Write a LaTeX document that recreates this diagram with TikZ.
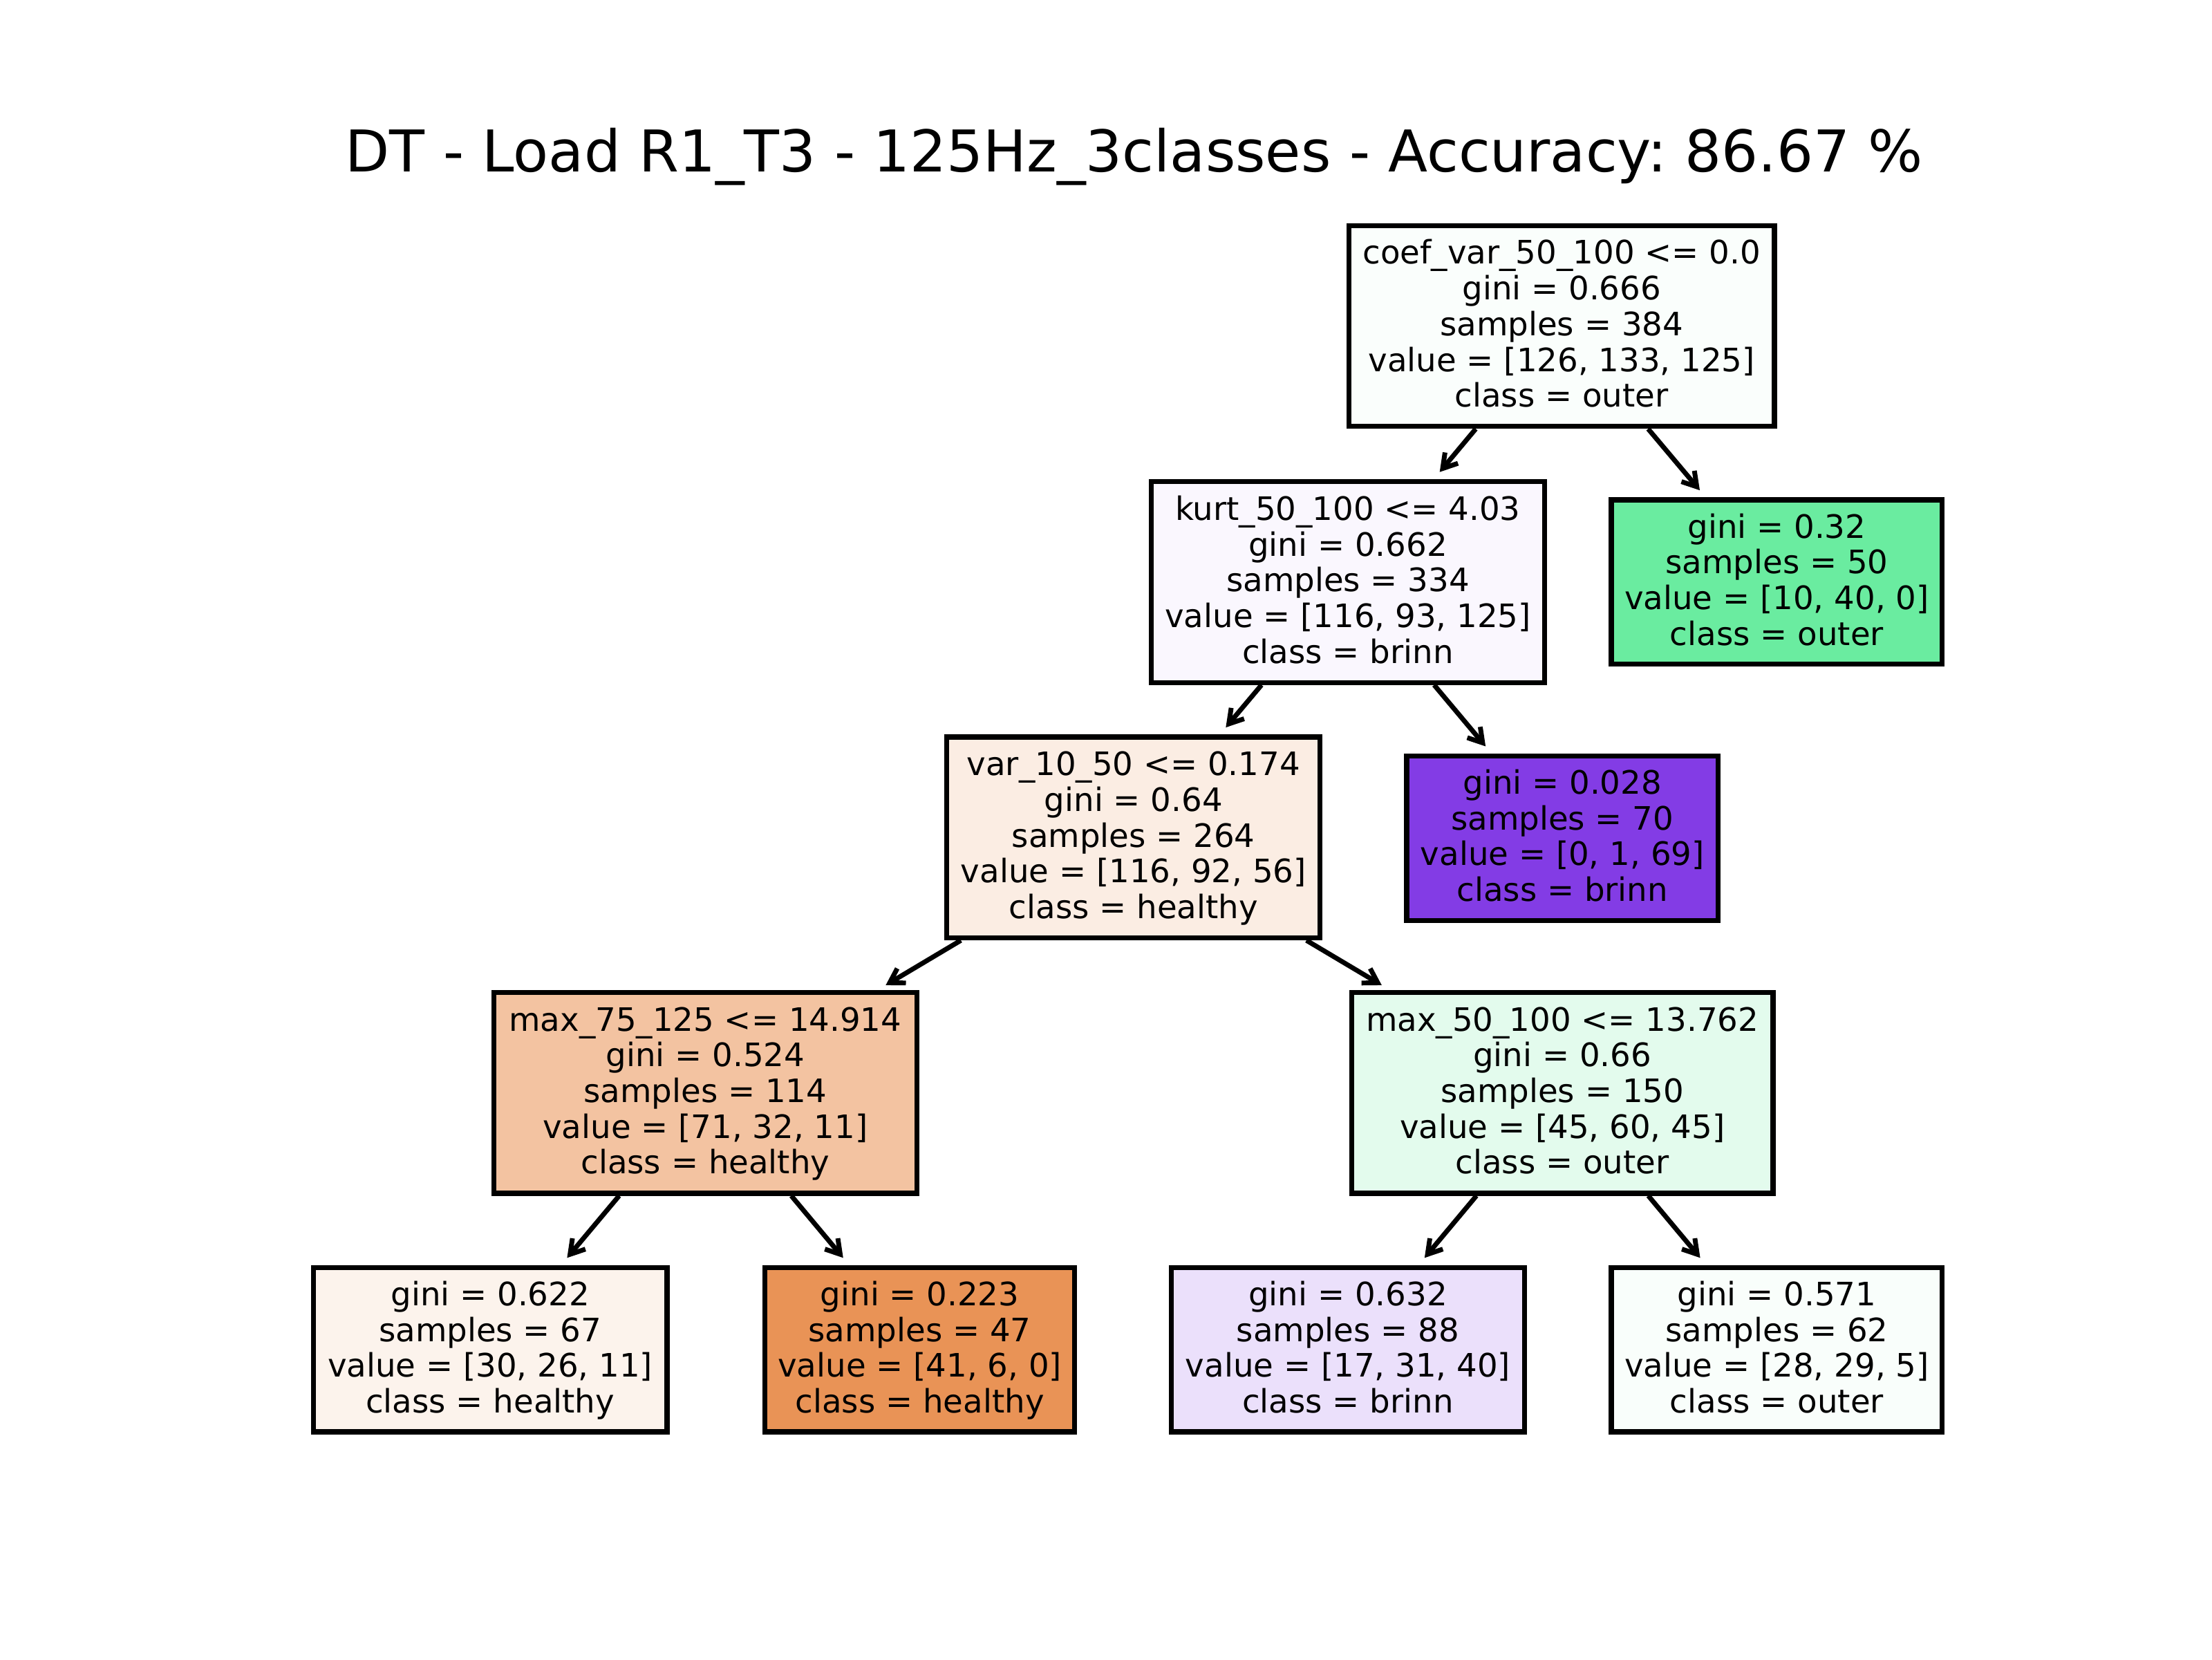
\documentclass[tikz,border=0pt]{standalone}
\usepackage{fontspec}
\setmainfont{DejaVu Sans}
\usetikzlibrary{arrows.meta}
\frenchspacing
\definecolor{cRoot}{RGB}{250,254,252}
\definecolor{cKurt}{RGB}{250,247,254}
\definecolor{cLa}{RGB}{106,236,160}
\definecolor{cVar}{RGB}{251,237,227}
\definecolor{cLb}{RGB}{131,60,229}
\definecolor{cMaxA}{RGB}{243,195,161}
\definecolor{cMaxB}{RGB}{227,251,237}
\definecolor{cLc}{RGB}{252,243,236}
\definecolor{cLd}{RGB}{233,147,86}
\definecolor{cLe}{RGB}{235,224,251}
\definecolor{cLf}{RGB}{249,254,251}
\newcommand{\tl}[1]{\rule[-2.15pt]{0pt}{9.3pt}#1}
\begin{document}
\begin{tikzpicture}[x=0.367347pt, y=-0.367347pt,
  box/.style={draw=black, line width=1.3pt, rectangle, inner sep=0pt, align=center,
    font=\fontsize{8.4}{9.3}\selectfont, anchor=center},
  tall/.style={minimum height=52.3pt},
  short/.style={minimum height=42.8pt},
  arr/.style={-{Straight Barb[length=3.6pt,width=4.4pt]}, line width=1.25pt, shorten >=2.4pt},
  ttl/.style={anchor=base, font=\fontsize{15}{18}\selectfont}
]
\useasboundingbox (0,0) rectangle (1568,1176);
\fill[white] (0,0) rectangle (1568,1176);

\node[ttl] (title) at (804,122) {DT - Load R1\_T3 - 125Hz\_3classes - Accuracy: 86.67 \%};

\node[box, tall, fill=cRoot, minimum width=110.8pt] (root) at (1107,231)
  {\tl{coef\_var\_50\_100 <= 0.0}\\\tl{gini = 0.666}\\\tl{samples = 384}\\\tl{value = [126, 133, 125]}\\\tl{class = outer}};
\node[box, tall, fill=cKurt, minimum width=102.4pt] (kurt) at (955.5,412.5)
  {\tl{kurt\_50\_100 <= 4.03}\\\tl{gini = 0.662}\\\tl{samples = 334}\\\tl{value = [116, 93, 125]}\\\tl{class = brinn}};
\node[box, short, fill=cLa, minimum width=86.2pt] (la) at (1259.5,412.5)
  {\tl{gini = 0.32}\\\tl{samples = 50}\\\tl{value = [10, 40, 0]}\\\tl{class = outer}};
\node[box, tall, fill=cVar, minimum width=97.2pt] (var) at (803.5,593.5)
  {\tl{var\_10\_50 <= 0.174}\\\tl{gini = 0.64}\\\tl{samples = 264}\\\tl{value = [116, 92, 56]}\\\tl{class = healthy}};
\node[box, short, fill=cLb, minimum width=81.1pt] (lb) at (1107.5,594)
  {\tl{gini = 0.028}\\\tl{samples = 70}\\\tl{value = [0, 1, 69]}\\\tl{class = brinn}};
\node[box, tall, fill=cMaxA, minimum width=110.1pt] (maxa) at (500,774.5)
  {\tl{max\_75\_125 <= 14.914}\\\tl{gini = 0.524}\\\tl{samples = 114}\\\tl{value = [71, 32, 11]}\\\tl{class = healthy}};
\node[box, tall, fill=cMaxB, minimum width=109.7pt] (maxb) at (1107.5,774.5)
  {\tl{max\_50\_100 <= 13.762}\\\tl{gini = 0.66}\\\tl{samples = 150}\\\tl{value = [45, 60, 45]}\\\tl{class = outer}};
\node[box, short, fill=cLc, minimum width=92.1pt] (lc) at (347.5,956.5)
  {\tl{gini = 0.622}\\\tl{samples = 67}\\\tl{value = [30, 26, 11]}\\\tl{class = healthy}};
\node[box, short, fill=cLd, minimum width=80.7pt] (ld) at (652,956.5)
  {\tl{gini = 0.223}\\\tl{samples = 47}\\\tl{value = [41, 6, 0]}\\\tl{class = healthy}};
\node[box, short, fill=cLe, minimum width=92.1pt] (le) at (955.5,956.5)
  {\tl{gini = 0.632}\\\tl{samples = 88}\\\tl{value = [17, 31, 40]}\\\tl{class = brinn}};
\node[box, short, fill=cLf, minimum width=86.2pt] (lf) at (1259.5,956.5)
  {\tl{gini = 0.571}\\\tl{samples = 62}\\\tl{value = [28, 29, 5]}\\\tl{class = outer}};

\draw[arr] (root) -- (kurt);
\draw[arr] (root) -- (la);
\draw[arr] (kurt) -- (var);
\draw[arr] (kurt) -- (lb);
\draw[arr] (var) -- (maxa);
\draw[arr] (var) -- (maxb);
\draw[arr] (maxa) -- (lc);
\draw[arr] (maxa) -- (ld);
\draw[arr] (maxb) -- (le);
\draw[arr] (maxb) -- (lf);
\end{tikzpicture}
\end{document}
